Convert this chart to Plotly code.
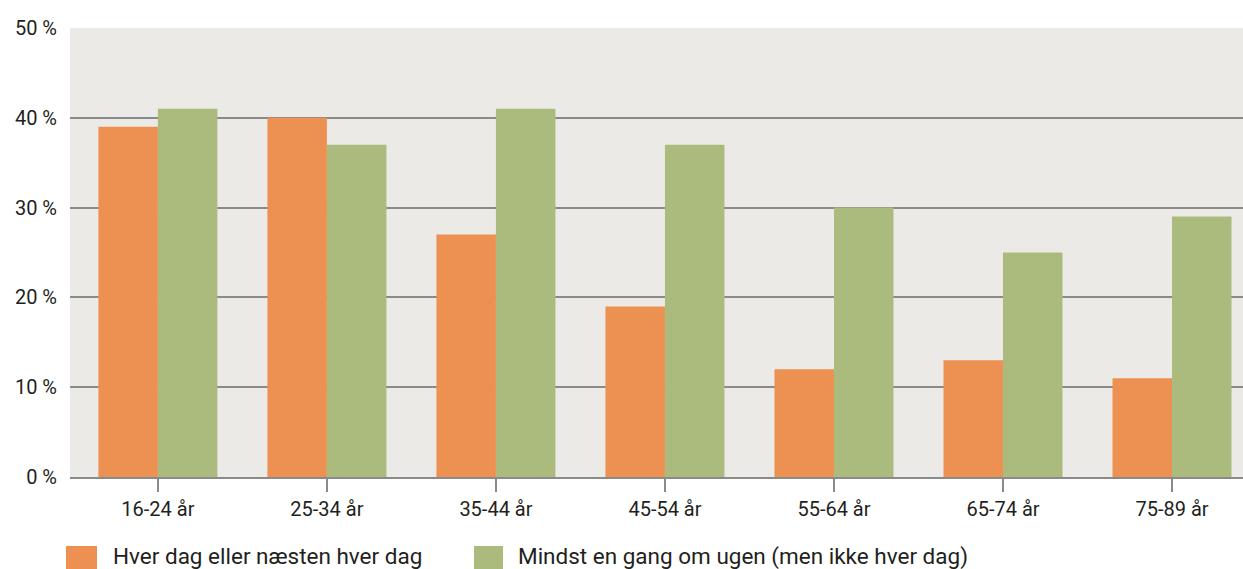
import plotly.graph_objects as go

# aldersgrupper og andele (%)
categories = ["16-24 år", "25-34 år", "35-44 år", "45-54 år", "55-64 år", "65-74 år", "75-89 år"]
daily = [39, 40, 27, 19, 12, 13, 11]
weekly = [41, 37, 41, 37, 30, 25, 29]
series_names = ["Hver dag eller næsten hver dag", "Mindst en gang om ugen (men ikke hver dag)"]
colors = ["#EC9152", "#AABB7D"]
y_ticks = [0, 10, 20, 30, 40, 50]

FONT = "Roboto"
W, H = 1243, 569
L, R, T, B = 70, 0, 28, 92

fig = go.Figure()
fig.add_trace(go.Bar(x=list(range(len(categories))), y=daily, name=series_names[0],
                     marker=dict(color=colors[0], line=dict(width=0))))
fig.add_trace(go.Bar(x=list(range(len(categories))), y=weekly, name=series_names[1],
                     marker=dict(color=colors[1], line=dict(width=0))))

fig.update_layout(
    width=W, height=H,
    margin=dict(l=L, r=R, t=T, b=B),
    paper_bgcolor="white",
    plot_bgcolor="#ECEAE6",
    barmode="group",
    bargap=0.296,
    bargroupgap=0,
    showlegend=False,
    font=dict(family=FONT, size=20, color="#231F20"),
)

fig.update_xaxes(
    range=[-0.52, 6.42],
    tickvals=list(range(len(categories))),
    ticktext=categories,
    showgrid=False,
    showline=True, linecolor="#8A8A8A", linewidth=2,
    ticks="outside", ticklen=13, tickwidth=2, tickcolor="#8A8A8A",
    tickfont=dict(size=20),
)
fig.update_yaxes(
    range=[0, 50],
    tickvals=y_ticks,
    ticktext=[f"{v} %" for v in y_ticks],
    showgrid=True, gridcolor="#8A8A8A", gridwidth=2,
    zeroline=False,
    ticks="", ticklabelstandoff=12,
    tickfont=dict(size=20),
)

# egen forklaring med store firkanter nederst
def px_to_paper(x, y):
    return (x - L) / (W - L - R), (H - B - y) / (H - T - B)

legend_pos = [(66, 97, 111), (474, 503, 516)]
for (x0, x1, xt), name, col in zip(legend_pos, series_names, colors):
    px0, py0 = px_to_paper(x0, 546)
    px1, py1 = px_to_paper(x1, 575)
    fig.add_shape(type="rect", xref="paper", yref="paper", x0=px0, x1=px1, y0=py0, y1=py1,
                  fillcolor=col, line=dict(width=0), layer="above")
    tx, ty = px_to_paper(xt, 556)
    fig.add_annotation(xref="paper", yref="paper", x=tx, y=ty, text=name, showarrow=False,
                       xanchor="left", yanchor="middle", font=dict(size=22.5, color="#231F20"))

fig.write_html("out.html", config={"displayModeBar": False},
               post_script="document.body.style.margin='0';")
